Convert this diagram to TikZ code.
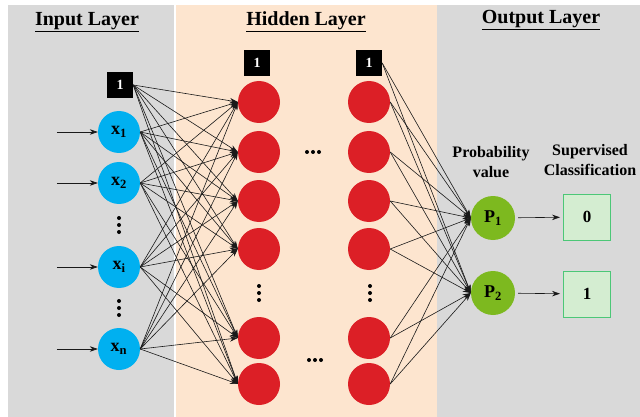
\documentclass[tikz,border=0pt]{standalone}
\usepackage{fontspec}
\setmainfont{Liberation Serif}
\usetikzlibrary{arrows.meta, positioning}

\definecolor{panelgray}{HTML}{D9D9D9}
\definecolor{panelpeach}{HTML}{FDE5CF}
\definecolor{inblue}{HTML}{00B0F0}
\definecolor{hidred}{HTML}{DC1F26}
\definecolor{outgreen}{HTML}{7DB91F}
\definecolor{boxgreen}{HTML}{4CC777}
\definecolor{boxfill}{HTML}{D4EDD1}

\begin{document}
\begin{tikzpicture}[
    x=1pt, y=-1pt,
    >={Stealth[length=8pt, width=5.5pt]},
    layertitle/.style={font=\fontsize{20}{22}\selectfont\bfseries},
    colhead/.style={align=center, font=\fontsize{16}{20}\selectfont\bfseries},
    bias/.style={
        rectangle, fill=black, text=white, minimum size=26pt,
        inner sep=0pt, font=\fontsize{14}{14}\selectfont\bfseries
    },
    inneuron/.style={
        circle, fill=inblue, minimum size=42pt, inner sep=0pt,
        font=\fontsize{18}{18}\selectfont\bfseries
    },
    hidneuron/.style={circle, fill=hidred, minimum size=42pt, inner sep=0pt},
    outneuron/.style={
        circle, fill=outgreen, minimum size=44pt, inner sep=0pt,
        font=\fontsize{18}{18}\selectfont\bfseries
    },
    classbox/.style={
        rectangle, draw=boxgreen, line width=1pt, fill=boxfill,
        minimum width=47pt, minimum height=46pt,
        font=\fontsize{17}{17}\selectfont\bfseries
    },
    wire/.style={->, line width=0.6pt, black!90},
    vdotsp/.pic={\foreach \d in {-7,0,7} \fill (0,\d) circle (2pt);},
    hdotsp/.pic={\foreach \d in {-6,0,6} \fill (\d,0) circle (2pt);},
]

\useasboundingbox (0,0) rectangle (640,417);

% ── Layer panels ──
\fill[panelgray]  (8,5)   rectangle (174,417);
\fill[panelpeach] (176,5) rectangle (437,417);
\fill[panelgray]  (437,5) rectangle (640,417);

\node[layertitle] (tin)  at (87,22)  {\underline{Input Layer}};
\node[layertitle] (thid) at (306,22) {\underline{Hidden Layer}};
\node[layertitle] (tout) at (541,20) {\underline{Output Layer}};

% ── Input layer ──
\node[bias] (b0) at (120,85) {1};
\node[inneuron] (x1) at (119,132) {x\textsubscript{1}};
\node[inneuron] (x2) at (119,183) {x\textsubscript{2}};
\node[inneuron] (xi) at (119,267) {x\textsubscript{i}};
\node[inneuron] (xn) at (119,349) {x\textsubscript{n}};
\pic at (119,225) {vdotsp};
\pic at (119,308) {vdotsp};

\foreach \n in {x1,x2,xi,xn}{
    \coordinate[left=41pt of \n] (in-\n);
    \draw[wire] (in-\n) -- (\n);
}

% ── Hidden layers ──
\node[bias] (b1) at (257,63) {1};
\node[bias] (b2) at (369,63) {1};
\foreach \y [count=\k] in {102,152,201,249,338,384}{
    \node[hidneuron] (h\k) at (259,\y) {};
    \node[hidneuron] (g\k) at (369,\y) {};
}
\pic at (259,293) {vdotsp};
\pic at (370,293) {vdotsp};
\pic at (313,152) {hdotsp};
\pic at (315,360) {hdotsp};

% ── Output layer ──
\node[colhead] (phead) at (491,162) {Probability\\value};
\node[colhead] (chead) at (590,160) {Supervised\\Classification};
\node[outneuron] (p1) at (493,218) {P\textsubscript{1}};
\node[outneuron] (p2) at (493,293) {P\textsubscript{2}};
\node[classbox] (c0) at (587,217) {0};
\node[classbox] (c1) at (587,294) {1};

% ── Edges ──
\foreach \s in {b0,x1,x2,xi,xn}
    \foreach \t in {h1,h2,h3,h4,h5,h6}
        \draw[wire] (\s.east) -- (\t.west);
\foreach \s in {b2,g1,g2,g3,g4,g5,g6}
    \foreach \t in {p1,p2}
        \draw[wire] (\s.east) -- (\t.west);
\draw[wire, shorten <=3pt, shorten >=3pt] (p1) -- (c0);
\draw[wire, shorten <=3pt, shorten >=3pt] (p2) -- (c1);

\end{tikzpicture}
\end{document}
